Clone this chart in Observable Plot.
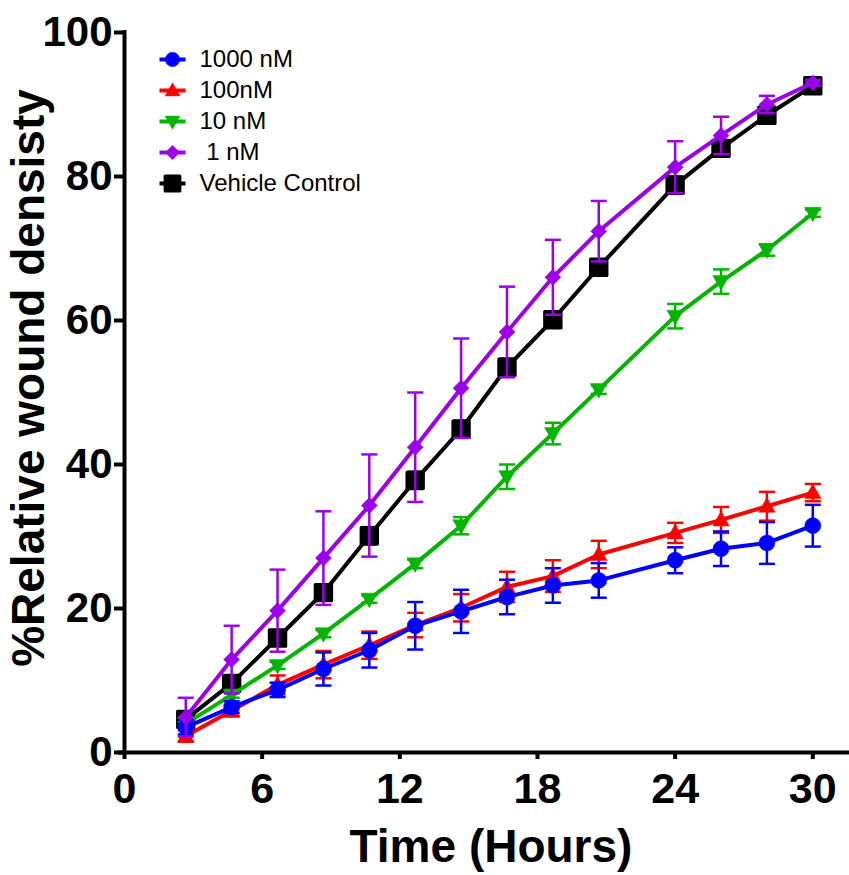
<!DOCTYPE html>
<html><head><meta charset="utf-8">
<script src="https://cdn.jsdelivr.net/npm/d3@7"></script>
<script src="https://cdn.jsdelivr.net/npm/@observablehq/plot@0.6"></script>
<style>
body{margin:0;background:#fff}
#chart{width:849px;height:875px}
svg text{white-space:pre}
</style>
</head><body><div id="chart"></div>
<script>
// ---- data ----
const times = [2.67, 4.67, 6.67, 8.67, 10.67, 12.67, 14.67, 16.67, 18.67, 20.67, 24, 26, 28, 30];

const mean1000 = [3.5, 6.3, 8.7, 11.6, 14.2, 17.6, 19.6, 21.6, 23.2, 23.9, 26.7, 28.3, 29.1, 31.5];
const err1000  = [1.0, 0.8, 1.0, 2.3, 2.4, 3.3, 3.0, 2.4, 2.4, 2.4, 1.8, 2.4, 2.9, 2.9];

const mean100 = [2.3, 5.8, 9.4, 12.2, 14.9, 17.7, 20.1, 23.0, 24.5, 27.5, 30.5, 32.3, 34.2, 36.1];
const err100  = [0.8, 0.8, 1.3, 1.9, 1.9, 1.7, 1.9, 2.1, 2.2, 1.9, 1.4, 1.8, 2.0, 1.2];

const mean10 = [4.0, 8.0, 12.1, 16.5, 21.3, 26.2, 31.5, 38.3, 44.3, 50.4, 60.6, 65.4, 69.8, 74.9];
const err10  = [0.3, 0.4, 0.5, 0.5, 0.5, 0.6, 1.2, 1.7, 1.5, 0.6, 1.7, 1.7, 0.8, 0.5];

const mean1 = [4.9, 12.9, 19.7, 27.0, 34.3, 42.4, 50.6, 58.4, 66.0, 72.4, 81.3, 85.7, 90.0, 93.0];
const err1  = [2.7, 4.7, 5.7, 6.5, 7.1, 7.6, 6.9, 6.3, 5.2, 4.2, 3.6, 2.6, 1.2, 0.4];

const meanVeh = [4.6, 9.6, 15.9, 22.2, 30.1, 37.8, 44.9, 53.5, 60.1, 67.4, 78.8, 83.9, 88.5, 92.6];
const errVeh  = [0.8, 0.8, 1.0, 1.0, 1.2, 1.2, 1.2, 1.2, 1.0, 1.0, 1.2, 1.0, 0.8, 0.6];

const seriesNames = ["1000 nM", "100nM", "10 nM", " 1 nM", "Vehicle Control"];
const seriesColors = ["#0000ff", "#ff0000", "#00b400", "#9b00e8", "#000000"];
const xTicks = [0, 6, 12, 18, 24, 30];
const yTicks = [0, 20, 40, 60, 80, 100];
const xTitle = "Time (Hours)";
const yTitle = "%Relative wound densisty";

// ---- symbols ----
const R = (size) => Math.sqrt(size / Math.PI);
const symCircle = {draw(c, s){ const r = R(s); c.moveTo(r,0); c.arc(0,0,r,0,2*Math.PI); }};
const symUp = {draw(c, s){ const r = R(s); c.moveTo(0,-r*1.15); c.lineTo(r*1.1,r*0.8); c.lineTo(-r*1.1,r*0.8); c.closePath(); }};
const symDown = {draw(c, s){ const r = R(s); c.moveTo(0,r*1.15); c.lineTo(r*1.1,-r*0.8); c.lineTo(-r*1.1,-r*0.8); c.closePath(); }};
const symDiamond = {draw(c, s){ const r = R(s); c.moveTo(0,-r); c.lineTo(r,0); c.lineTo(0,r); c.lineTo(-r,0); c.closePath(); }};
const symSquare = {draw(c, s){ const r = R(s); c.rect(-r,-r,2*r,2*r); }};
const symHLine = {draw(c, s){ const r = R(s); c.moveTo(-r,0); c.lineTo(r,0); }};
const seriesSymbols = [symCircle, symUp, symDown, symDiamond, symSquare];
const symbolR = [8, 7.5, 7.5, 8, 8.2];

const means = [mean1000, mean100, mean10, mean1, meanVeh];
const errs = [err1000, err100, err10, err1, errVeh];

const series = seriesNames.map((name, i) => ({
  name, color: seriesColors[i], symbol: seriesSymbols[i], r: symbolR[i],
  rows: times.map((t, j) => ({t, m: means[i][j], e: errs[i][j], lo: means[i][j] - errs[i][j], hi: means[i][j] + errs[i][j]}))
}));

const drawOrder = [4, 2, 1, 0, 3];
const marks = [];

for (const i of drawOrder) {
  const s = series[i];
  marks.push(Plot.line(s.rows, {x: "t", y: "m", stroke: s.color, strokeWidth: 4}));
  marks.push(Plot.ruleX(s.rows, {x: "t", y1: "lo", y2: "hi", stroke: s.color, strokeWidth: 2.5}));
  marks.push(Plot.dot(s.rows, {x: "t", y: "hi", symbol: symHLine, r: 8, stroke: s.color, strokeWidth: 2.5}));
  marks.push(Plot.dot(s.rows, {x: "t", y: "lo", symbol: symHLine, r: 8, stroke: s.color, strokeWidth: 2.5}));
  marks.push(Plot.dot(s.rows, {x: "t", y: "m", symbol: s.symbol, r: s.r, fill: s.color,
    stroke: s.color, strokeWidth: i === 4 ? 3 : 0.5, strokeLinejoin: "round"}));
}

// legend (inside plot area, top-left)
series.forEach((s, i) => {
  const dy = 27 + 31 * i;
  marks.push(Plot.dot([s.name], {frameAnchor: "top-left", dx: 48, dy, symbol: symHLine, r: 13, stroke: s.color, strokeWidth: 4}));
  marks.push(Plot.dot([s.name], {frameAnchor: "top-left", dx: 48, dy, symbol: s.symbol, r: s.r * 0.9, fill: s.color,
    stroke: s.color, strokeWidth: i === 4 ? 3 : 0.5, strokeLinejoin: "round"}));
  marks.push(Plot.text([s.name], {text: d => d, frameAnchor: "top-left", dx: 75, dy, textAnchor: "start",
    lineAnchor: "middle", fontSize: 24, fill: "#000", fontWeight: "normal"}));
});

// axes
marks.push(Plot.ruleY([0], {strokeWidth: 4, insetLeft: -6}));
marks.push(Plot.ruleX([0], {strokeWidth: 4, insetTop: -2, insetBottom: -2}));
marks.push(Plot.axisX(xTicks, {tickSize: 7, strokeWidth: 4, tickPadding: 13, fontSize: 43, fontWeight: "bold", label: null}));
marks.push(Plot.axisY(yTicks, {tickSize: 10, strokeWidth: 4, tickPadding: 2, fontSize: 42, fontWeight: "bold", label: null}));

const plot = Plot.plot({
  width: 849, height: 875,
  marginLeft: 124, marginRight: 0, marginTop: 32, marginBottom: 123,
  x: {domain: [0, 31.6]},
  y: {domain: [0, 100]},
  style: {fontFamily: "'Liberation Sans', Arial, sans-serif", background: "#fff", color: "#000"},
  marks
});

const svg = d3.select(plot);
svg.append("text").attr("x", 491).attr("y", 862).attr("text-anchor", "middle")
  .attr("font-family", "'Liberation Sans', Arial, sans-serif").attr("font-weight", "bold").attr("font-size", 46)
  .attr("fill", "#000").text(xTitle);
svg.append("text").attr("transform", "translate(44,378) rotate(-90)").attr("text-anchor", "middle")
  .attr("font-family", "'Liberation Sans', Arial, sans-serif").attr("font-weight", "bold").attr("font-size", 46)
  .attr("fill", "#000").text(yTitle);

document.getElementById("chart").appendChild(plot);
</script>
</body></html>
